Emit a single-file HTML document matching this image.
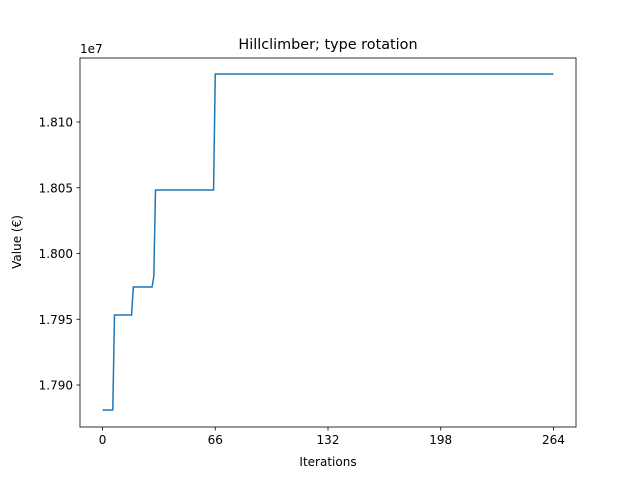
<!DOCTYPE html>
<html><head><meta charset="utf-8"><style>
body{margin:0;background:#fff;}
svg{display:block;font-family:"DejaVu Sans","Liberation Sans",sans-serif;}
</style></head><body>
<svg id="chart" width="640" height="480" viewBox="0 0 640 480">
<rect width="640" height="480" fill="#fff"/>
<text x="328" y="49" text-anchor="middle" font-size="14.4">Hillclimber; type rotation</text>
<text x="80" y="53" font-size="12">1e7</text>
<g id="ticks"></g>
<polyline id="series" fill="none" stroke="#1f77b4" stroke-width="1.5"/>
<rect x="80" y="58" width="496" height="369" fill="none" stroke="#000" stroke-width="0.8"/>
<text x="328" y="466" text-anchor="middle" font-size="12">Iterations</text>
<text transform="translate(21,242) rotate(-90)" text-anchor="middle" font-size="12">Value (€)</text>
</svg>
<script>
const iterations = [0, 6, 7, 17, 18, 29, 30, 31, 65, 66, 264];
const values = [1.78810, 1.78810, 1.79532, 1.79532, 1.79745, 1.79745, 1.79824, 1.80483, 1.80483, 1.81365, 1.81365];
const xTicks = [0, 66, 132, 198, 264];
const yTicks = [1.790, 1.795, 1.800, 1.805, 1.810];
const yTickLabels = ["1.790", "1.795", "1.800", "1.805", "1.810"];
const L=80,R=576,T=58,B=427;
const xmin=-13.2,xmax=277.2;
const y0=1.790,yp0=385,ypp=(385-122)/0.020;
function sx(v){return L+(v-xmin)/(xmax-xmin)*(R-L);}
function sy(v){return yp0-(v-y0)*ypp;}
const NS="http://www.w3.org/2000/svg";
const g=document.getElementById('ticks');
xTicks.forEach(t=>{
  const x=sx(t);
  const l=document.createElementNS(NS,'line');
  l.setAttribute('x1',x);l.setAttribute('x2',x);l.setAttribute('y1',B);l.setAttribute('y2',B+3.5);
  l.setAttribute('stroke','#000');l.setAttribute('stroke-width','0.8');
  
  
  g.appendChild(l);
  const tx=document.createElementNS(NS,'text');
  tx.setAttribute('x',x);tx.setAttribute('y',B+17);tx.setAttribute('text-anchor','middle');tx.setAttribute('font-size','12');
  tx.textContent=t;
  
  
  g.appendChild(tx);
});
yTicks.forEach((t,i)=>{
  const y=sy(t);
  const l=document.createElementNS(NS,'line');
  l.setAttribute('x1',L-3.5);l.setAttribute('x2',L);l.setAttribute('y1',y);l.setAttribute('y2',y);
  l.setAttribute('stroke','#000');l.setAttribute('stroke-width','0.8');
  
  
  g.appendChild(l);
  const tx=document.createElementNS(NS,'text');
  tx.setAttribute('x',L-7);tx.setAttribute('y',y+4.5);tx.setAttribute('text-anchor','end');tx.setAttribute('font-size','12');
  tx.textContent=yTickLabels[i];
  
  
  g.appendChild(tx);
});
document.getElementById('series').setAttribute('points',iterations.map((it,i)=>sx(it).toFixed(2)+','+sy(values[i]).toFixed(2)).join(' '));
</script>
</body></html>
